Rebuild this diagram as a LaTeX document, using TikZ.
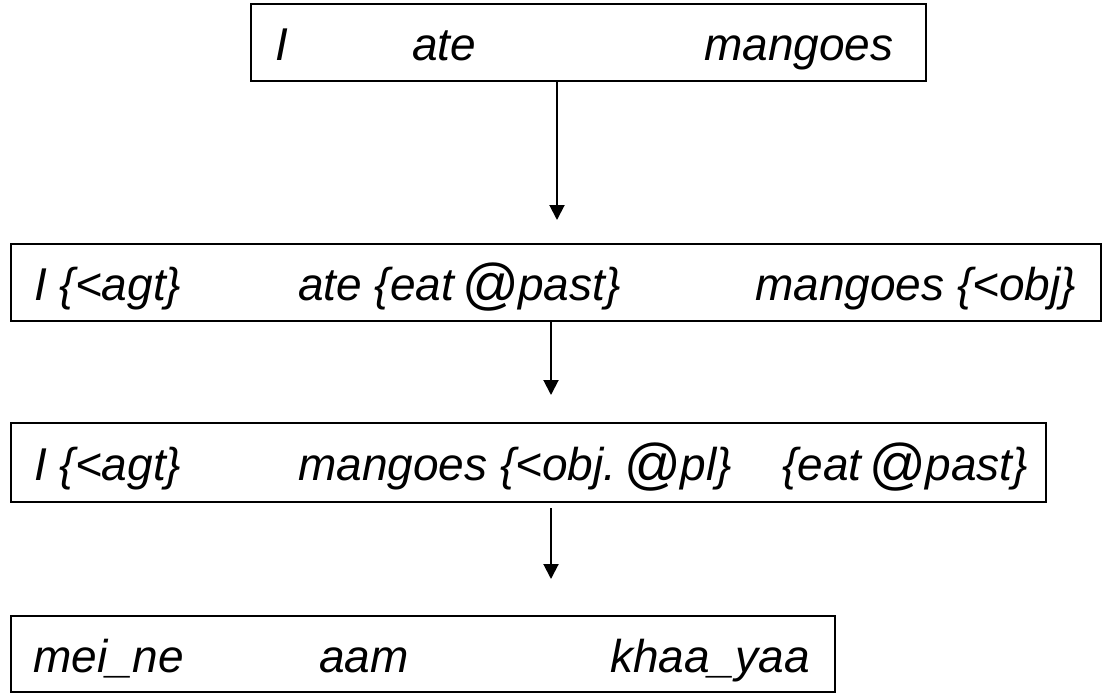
\documentclass[tikz,border=0pt]{standalone}
\usepackage{fontspec}
\setmainfont{Liberation Sans}
\usetikzlibrary{arrows.meta}
\newcommand{\bigat}{\hspace{0.15em}\raisebox{-0.08em}{\scalebox{1.22}{@}}}
\tikzset{
  stagebox/.style={draw, line width=2pt, rectangle, inner sep=0pt},
  word/.style={anchor=base west, inner sep=0pt, font=\fontsize{46}{50}\selectfont\itshape},
  flow/.style={line width=2pt, -{Triangle[length=15pt,width=15pt]}}
}
\begin{document}
\begin{tikzpicture}[x=1pt,y=-1pt]
\useasboundingbox (0,0) rectangle (1103,693);
% boxes
\node[stagebox, minimum width=675pt, minimum height=77pt] (b1) at (588.5,42.5) {};
\node[stagebox, minimum width=1090pt, minimum height=77pt] (b2) at (556,282.5) {};
\node[stagebox, minimum width=1035pt, minimum height=79pt] (b3) at (528.5,462.5) {};
\node[stagebox, minimum width=824pt, minimum height=76pt] (b4) at (423,654) {};
% texts
\node[word] (t11) at (275,60) {I};
\node[word] (t12) at (412,60) {ate};
\node[word] (t13) at (704,60) {mangoes};
\node[word] (t21) at (34,300) {I \{<agt\}};
\node[word] (t22) at (298,300) {ate \{eat\bigat past\}};
\node[word] (t23) at (755,300) {mangoes \{<obj\}};
\node[word] (t31) at (34,480) {I \{<agt\}};
\node[word] (t32) at (298,480) {mangoes \{<obj.\bigat pl\}};
\node[word, anchor=base east] (t33) at (1028,480) {\{eat\bigat past\}};
\node[word] (t41) at (33,672) {mei\_ne};
\node[word] (t42) at (319,672) {aam};
\node[word] (t43) at (610,672) {khaa\_yaa};
% arrows
\coordinate (e1) at (557,220);
\coordinate (s2) at (551,321);
\coordinate (e2) at (551,395);
\coordinate (s3) at (551,508);
\coordinate (e3) at (551,579);
\draw[flow] (b1.south -| e1) -- (e1);
\draw[flow] (s2) -- (e2);
\draw[flow] (s3) -- (e3);
\end{tikzpicture}
\end{document}
